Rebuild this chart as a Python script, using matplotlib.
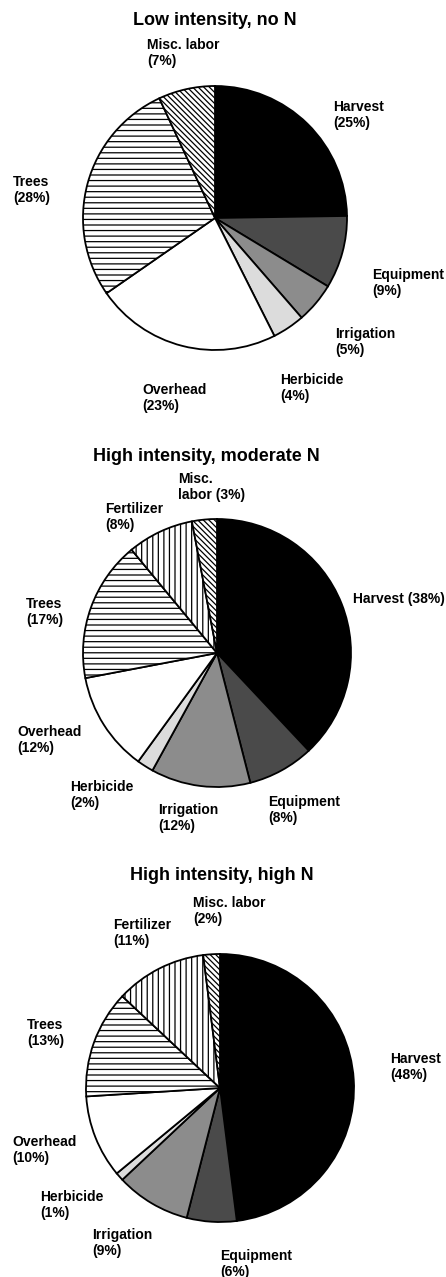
import matplotlib.pyplot as plt

# cost shares (%) - slices go clockwise from 12 o'clock
cats = ['Harvest', 'Equipment', 'Irrigation', 'Herbicide', 'Overhead', 'Trees', 'Fertilizer', 'Misc. labor']
low_no_n = [25, 9, 5, 4, 23, 28, 0, 7]
high_mod_n = [38, 8, 12, 2, 12, 17, 8, 3]
high_high_n = [48, 6, 9, 1, 10, 13, 11, 2]

titles = ['Low intensity, no N', 'High intensity, moderate N', 'High intensity, high N']

labels_low = ['Harvest\n(25%)', 'Equipment\n(9%)', 'Irrigation\n(5%)', 'Herbicide\n(4%)',
              'Overhead\n(23%)', 'Trees\n(28%)', None, 'Misc. labor\n(7%)']
labels_mod = ['Harvest (38%)', 'Equipment\n(8%)', 'Irrigation\n(12%)', 'Herbicide\n(2%)',
              'Overhead\n(12%)', 'Trees\n(17%)', 'Fertilizer\n(8%)', 'Misc.\nlabor (3%)']
labels_high = ['Harvest\n(48%)', 'Equipment\n(6%)', 'Irrigation\n(9%)', 'Herbicide\n(1%)',
               'Overhead\n(10%)', 'Trees\n(13%)', 'Fertilizer\n(11%)', 'Misc. labor\n(2%)']

W, H = 446, 1277
plt.rcParams['font.family'] = ['Liberation Sans', 'DejaVu Sans']
plt.rcParams['hatch.linewidth'] = 0.9

fills = ['black', '#4a4a4a', '#8c8c8c', '#dcdcdc', 'white', 'white', 'white', 'white']
hatches = [None, None, None, None, None, '---', '|||', '\\\\\\\\\\\\']

fig = plt.figure(figsize=(W / 100, H / 100), dpi=100)
ax = fig.add_axes([0, 0, 1, 1])


def draw_pie(values, labels, title, cx, cy, r, tpos, lpos):
    keep = [i for i, v in enumerate(values) if v > 0]
    wedges, _ = ax.pie([values[i] for i in keep], center=(cx, H - cy), radius=r,
                       startangle=90, counterclock=False,
                       colors=[fills[i] for i in keep],
                       wedgeprops=dict(edgecolor='black', linewidth=1.3))
    for w, i in zip(wedges, keep):
        if hatches[i]:
            w.set_hatch(hatches[i])
    ax.text(tpos[0], H - tpos[1], title, ha='center', va='top', fontsize=13, fontweight='bold')
    for i in keep:
        x, y = lpos[i]
        ax.text(x, H - y, labels[i], ha='left', va='top', fontsize=10, fontweight='bold')


draw_pie(low_no_n, labels_low, titles[0], 215, 218, 132, (215, 12),
         [(333, 100), (372, 268), (335, 327), (280, 373), (142, 383), (13, 175), None, (147, 38)])
draw_pie(high_mod_n, labels_mod, titles[1], 217, 653, 134, (206, 448),
         [(353, 592), (268, 795), (158, 803), (70, 780), (17, 725), (26, 597), (105, 502), (178, 472)])
draw_pie(high_high_n, labels_high, titles[2], 220, 1088, 134, (222, 867),
         [(390, 1052), (220, 1249), (92, 1228), (40, 1190), (12, 1135), (27, 1018), (113, 918), (193, 896)])

ax.set_xlim(0, W)
ax.set_ylim(0, H)
ax.axis('off')
plt.savefig('out.png', dpi=100)
